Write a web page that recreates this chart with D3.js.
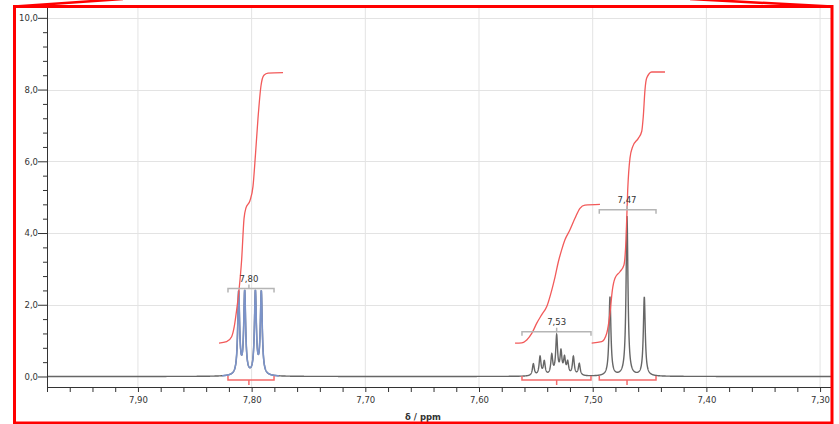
<!DOCTYPE html>
<html>
<head>
<meta charset="utf-8">
<script src="https://cdn.jsdelivr.net/npm/d3@7"></script>
<style>
  html, body { margin: 0; padding: 0; background: #fff; }
  svg { display: block; }
  text { font-family: "DejaVu Sans", Verdana, sans-serif; }
</style>
</head>
<body>
<div id="chart"></div>
<script>
// peak lists: [ppm, height]
const peaks780 = [[7.8114, 2.3], [7.8061, 2.3], [7.7967, 2.3], [7.7915, 2.3]];
const peaks753 = [[7.5522, 0.33], [7.5463, 0.52], [7.5426, 0.38], [7.5360, 0.55], [7.5317, 1.08],
                  [7.5279, 0.62], [7.5248, 0.45], [7.5220, 0.34], [7.5170, 0.52], [7.5118, 0.33]];
const peaks747 = [[7.4848, 2.2], [7.4698, 4.45], [7.4546, 2.2]];
const lineWidth = 0.001; // half width, ppm

// integral curves [ppm, value]
const integral780 = [[7.8287, 0.93], [7.8220, 0.97], [7.8176, 1.11], [7.8153, 1.39], [7.8132, 1.85],
  [7.8111, 2.41], [7.8088, 3.25], [7.8067, 4.4], [7.8050, 4.7], [7.8015, 4.9], [7.7988, 5.3],
  [7.7966, 6.2], [7.7944, 7.2], [7.7918, 8.1], [7.7892, 8.4], [7.7856, 8.46], [7.7724, 8.47]];
const integral753 = [[7.5683, 0.93], [7.5624, 0.94], [7.5580, 1.02], [7.5536, 1.2], [7.5493, 1.48],
  [7.5449, 1.72], [7.5404, 1.95], [7.5360, 2.41], [7.5331, 2.78], [7.5302, 3.2], [7.5273, 3.53],
  [7.5244, 3.81], [7.5200, 4.09], [7.5156, 4.41], [7.5112, 4.69], [7.5068, 4.78], [7.4936, 4.8]];
const integral747 = [[7.5009, 0.93], [7.4921, 0.97], [7.4877, 1.2], [7.4848, 1.76], [7.4827, 2.41],
  [7.4804, 2.74], [7.4760, 2.92], [7.4725, 3.11], [7.4707, 3.81], [7.4692, 5.2], [7.4672, 6.09],
  [7.4648, 6.41], [7.4599, 6.64], [7.4569, 6.83], [7.4555, 7.25], [7.4540, 7.99], [7.4525, 8.32],
  [7.4481, 8.49], [7.4364, 8.49]];

// multiplets: label, range from, range to, centre
const multiplets = [
  { label: '7,80', from: 7.8208, to: 7.7803, center: 7.8024 },
  { label: '7,53', from: 7.5622, to: 7.5015, center: 7.5317 },
  { label: '7,47', from: 7.4942, to: 7.4443, center: 7.4698 }
];
const labelY = [2.45, 1.25, 4.65];

const xTicks = [7.90, 7.80, 7.70, 7.60, 7.50, 7.40, 7.30];
const yTicks = [0, 2, 4, 6, 8, 10];

const width = 839, height = 424;
const svg = d3.select('#chart').append('svg')
  .attr('width', width).attr('height', height);

const x = d3.scaleLinear().domain([7.98, 7.2895]).range([47, 832]);
const y = d3.scaleLinear().domain([-0.293, 10.33]).range([387, 6]);
const fmt = d => d.toFixed(2).replace('.', ',');
const fmtY = d => d.toFixed(1).replace('.', ',');

// grid
svg.append('g').selectAll('line').data(xTicks).enter().append('line')
  .attr('x1', d => x(d)).attr('x2', d => x(d))
  .attr('y1', 6).attr('y2', 387)
  .attr('stroke', '#e3e3e3').attr('stroke-width', 1);
svg.append('g').selectAll('line').data(yTicks.slice(1)).enter().append('line')
  .attr('x1', 47).attr('x2', 832)
  .attr('y1', d => Math.round(y(d)) + 0.5).attr('y2', d => Math.round(y(d)) + 0.5)
  .attr('stroke', '#e3e3e3').attr('stroke-width', 1);

// spectrum
const lorentz = (p, list) => d3.sum(list, ([c, h]) => h * lineWidth * lineWidth / ((p - c) * (p - c) + lineWidth * lineWidth));
const allPeaks = peaks780.concat(peaks753, peaks747);
const pts = d3.range(7.98, 7.2895, -0.0001).map(p => [p, lorentz(p, allPeaks)]);
const line = d3.line().x(d => x(d[0])).y(d => y(d[1]));

svg.append('path').datum(pts)
  .attr('fill', 'none').attr('stroke', '#666').attr('stroke-width', 1.4).attr('d', line);
svg.append('path').datum(pts.filter(d => d[0] <= 7.826 && d[0] >= 7.776))
  .attr('fill', 'none').attr('stroke', '#7b93c9').attr('stroke-width', 1.6).attr('d', line);

// integrals
const iline = d3.line().x(d => x(d[0])).y(d => y(d[1])).curve(d3.curveMonotoneX);
[integral780, integral753, integral747].forEach(data => {
  svg.append('path').datum(data)
    .attr('fill', 'none').attr('stroke', '#f25a5a').attr('stroke-width', 1.3).attr('d', iline);
});

// integral brackets (red, below baseline) and multiplet labels (grey, above)
multiplets.forEach((m, i) => {
  const x0 = x(m.from), x1 = x(m.to), xc = x(m.center);
  const by = 380;
  svg.append('path')
    .attr('d', `M${x0},${by - 4}V${by}H${x1}V${by - 4}M${xc},${by}V${by + 5}`)
    .attr('fill', 'none').attr('stroke', '#f46a6a').attr('stroke-width', 1.5);
  const ly = y(labelY[i]);
  svg.append('path')
    .attr('d', `M${x0},${ly + 4}V${ly}H${x1}V${ly + 4}M${xc},${ly}V${ly - 4}`)
    .attr('fill', 'none').attr('stroke', '#b5b5b5').attr('stroke-width', 1.5);
  svg.append('text')
    .attr('x', xc).attr('y', ly - 7)
    .attr('text-anchor', 'middle').attr('font-size', '8.5px').attr('fill', '#333')
    .text(m.label);
});

// x axis
const xAxis = d3.axisBottom(x)
  .tickValues(d3.range(0, 35).map(i => +(7.98 - i * 0.02).toFixed(2)))
  .tickSize(5).tickSizeOuter(0)
  .tickFormat(d => xTicks.some(t => Math.abs(t - d) < 1e-6) ? fmt(d) : '');
const gx = svg.append('g').attr('transform', 'translate(0,387)').call(xAxis);
gx.select('.domain').attr('stroke', '#333');
gx.selectAll('.tick line').attr('stroke', '#333');
gx.selectAll('text').attr('font-size', '8.5px').attr('fill', '#333').attr('dy', '0.95em')
  .attr('font-family', '"DejaVu Sans", Verdana, sans-serif');

svg.append('text')
  .attr('x', 423).attr('y', 420).attr('text-anchor', 'middle')
  .attr('font-size', '8.5px').attr('font-weight', 'bold').attr('fill', '#333')
  .text('δ / ppm');

// y axis
const yAxis = d3.axisLeft(y)
  .tickValues(d3.range(0, 26).map(i => +(i * 0.4).toFixed(1)))
  .tickSize(4).tickSizeOuter(0)
  .tickFormat(d => yTicks.includes(d) ? fmtY(d) : '');
const gy = svg.append('g').attr('transform', 'translate(47,0)').call(yAxis);
gy.select('.domain').attr('stroke', '#333');
gy.selectAll('.tick line').attr('stroke', '#333')
  .attr('x2', d => yTicks.includes(d) ? -9 : -4);
gy.selectAll('text').attr('font-size', '8.5px').attr('fill', '#333').attr('x', -9)
  .attr('font-family', '"DejaVu Sans", Verdana, sans-serif');

// red callout frame
svg.append('path')
  .attr('d', 'M14.5,6.5H832V423H14.5Z')
  .attr('fill', 'none').attr('stroke', '#ff0000').attr('stroke-width', 3);
svg.append('path')
  .attr('d', 'M14.5,6.5L123,-1M690,-1L832,6.5')
  .attr('fill', 'none').attr('stroke', '#ff0000').attr('stroke-width', 2.5);
</script>
</body>
</html>
